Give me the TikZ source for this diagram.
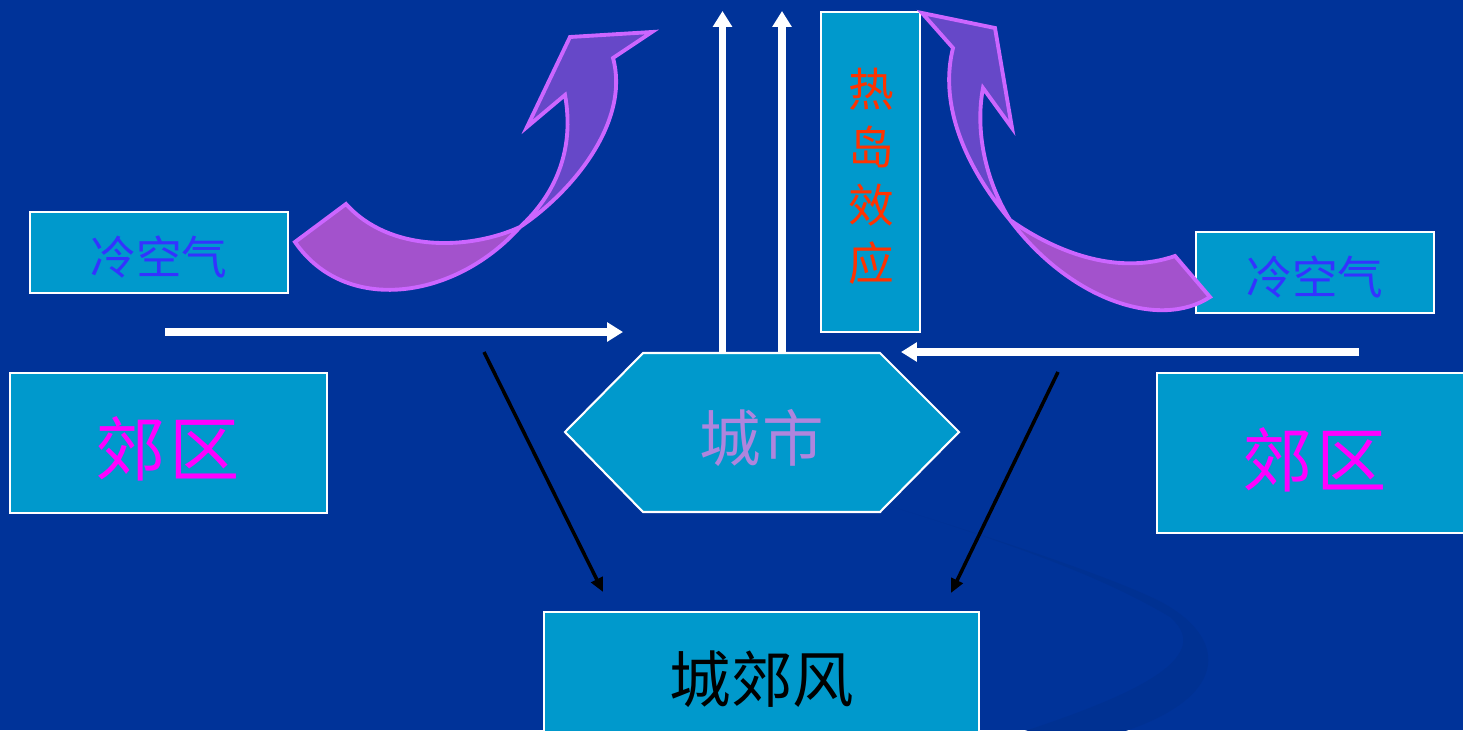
\documentclass[tikz,border=0pt]{standalone}
\usepackage{fontspec}
\newfontfamily\cjk{Noto Sans CJK SC}
\usetikzlibrary{arrows.meta}
\definecolor{bgc}{HTML}{003399}
\definecolor{swc}{HTML}{003192}
\definecolor{boxc}{HTML}{0099CC}
\definecolor{coldc}{HTML}{3333FF}
\definecolor{subc}{HTML}{FF00FF}
\definecolor{cityc}{HTML}{AF85DD}
\definecolor{heatc}{HTML}{FF3300}
\definecolor{outc}{HTML}{CC66FF}
\definecolor{tailc}{HTML}{A352CC}
\definecolor{headc}{HTML}{6648C8}
\begin{document}
\begin{tikzpicture}[x=0.02cm,y=-0.02cm,
  box/.style={draw=white,line width=1.2pt,fill=boxc,inner sep=0pt,font=\cjk},
  coldtxt/.style={text=coldc,font=\cjk\fontsize{26}{26}\selectfont},
  subtxt/.style={text=subc,font=\cjk\fontsize{40}{40}\selectfont},
  whitearr/.style={draw=white,line width=4.5pt,-{Triangle[length=9pt,width=10.5pt]}},
  blackarr/.style={draw=black,line width=2pt,-{Triangle[length=8pt,width=7pt]}},
  ribbon/.style={draw=outc,line width=2.2pt,line join=miter}]
\useasboundingbox (0,0) rectangle (1463,730);
\fill[bgc] (0,0) rectangle (1463,730);
\clip (0,0) rectangle (1463,730);
% background swoosh
\fill[swc] (880,503) .. controls (1000,540) and (1120,580) .. (1163,603)
  .. controls (1230,640) and (1230,700) .. (1113,735) -- (1013,735)
  .. controls (1120,700) and (1220,660) .. (1170,617)
  .. controls (1100,575) and (1000,540) .. (880,503) -- cycle;

% boxes
\node[box,minimum width=5.16cm,minimum height=1.62cm] (coldL) at (159,252.5) {};
\node[coldtxt] (coldLt) at (159,257) {冷空气};
\node[box,minimum width=4.76cm,minimum height=1.62cm] (coldR) at (1315,272.5) {};
\node[coldtxt] (coldRt) at (1315,277) {冷空气};
\node[box,minimum width=6.34cm,minimum height=2.8cm] (subL) at (168.5,443) {};
\node[subtxt] (subLt) at (168,449) {郊\kern2pt 区};
\node[box,minimum width=6.26cm,minimum height=3.2cm] (subR) at (1313.5,453) {};
\node[subtxt] (subRt) at (1315,460) {郊\kern2pt 区};
\node[box,minimum width=8.7cm,minimum height=2.66cm] (wind) at (761.5,678.5) {};
\node[text=black,font=\cjk\fontsize{35}{35}\selectfont] (windt) at (762,679) {城郊风};
\node[box,minimum width=1.98cm,minimum height=6.4cm] (heat) at (870.5,172) {};
\node[text=heatc,align=center,font=\cjk\fontsize{26}{33}\selectfont] (heatt) at (871,176) {热\\岛\\效\\应};

% city hexagon
\draw[draw=white,line width=1.2pt,fill=boxc] (565,432) -- (643,353) -- (880,353) -- (959,432) -- (880,512) -- (643,512) -- cycle;
\node[text=cityc,font=\cjk\fontsize{35}{35}\selectfont] (city) at (762,438) {城\kern1pt 市};

% curved ribbon arrows
\fill[tailc] (295,242) .. controls (345,315) and (455,300) .. (520,227)
  .. controls (470,250) and (390,253) .. (346,204) -- cycle;
\fill[headc] (520,227) .. controls (575,190) and (630,120) .. (613,58) -- (652,32) -- (570,37) -- (527,127) -- (565,95)
  .. controls (575,150) and (555,195) .. (520,227) -- cycle;
\draw[ribbon] (295,242) .. controls (345,315) and (455,300) .. (520,227)
  .. controls (575,190) and (630,120) .. (613,58) -- (652,32) -- (570,37) -- (527,127) -- (565,95)
  .. controls (575,150) and (555,195) .. (520,227)
  .. controls (470,250) and (390,253) .. (346,204) -- cycle;

\fill[tailc] (1210,297) .. controls (1160,330) and (1070,300) .. (1010,220)
  .. controls (1060,255) and (1120,275) .. (1175,256) -- cycle;
\fill[headc] (1010,220) .. controls (960,160) and (940,100) .. (953,48) -- (922,13) -- (995,28) -- (1012,128) -- (983,88)
  .. controls (975,130) and (985,180) .. (1010,220) -- cycle;
\draw[ribbon] (1210,297) .. controls (1160,330) and (1070,300) .. (1010,220)
  .. controls (960,160) and (940,100) .. (953,48) -- (922,13) -- (995,28) -- (1012,128) -- (983,88)
  .. controls (975,130) and (985,180) .. (1010,220)
  .. controls (1060,255) and (1120,275) .. (1175,256) -- cycle;

% white arrows
\coordinate (wl0) at (165,332);
\coordinate (wl1) at (623,332);
\coordinate (wr0) at (1359,352);
\coordinate (wr1) at (901,352);
\coordinate (v10) at (722.5,353);
\coordinate (v11) at (722.5,11);
\coordinate (v20) at (782,353);
\coordinate (v21) at (782,11);
\draw[whitearr] (wl0) -- (wl1);
\draw[whitearr] (wr0) -- (wr1);
\draw[whitearr] (v10) -- (v11);
\draw[whitearr] (v20) -- (v21);

% black arrows
\coordinate (b10) at (484,352);
\coordinate (b11) at (603,592);
\coordinate (b20) at (1058,372);
\coordinate (b21) at (951,593);
\draw[blackarr] (b10) -- (b11);
\draw[blackarr] (b20) -- (b21);
\end{tikzpicture}
\end{document}
